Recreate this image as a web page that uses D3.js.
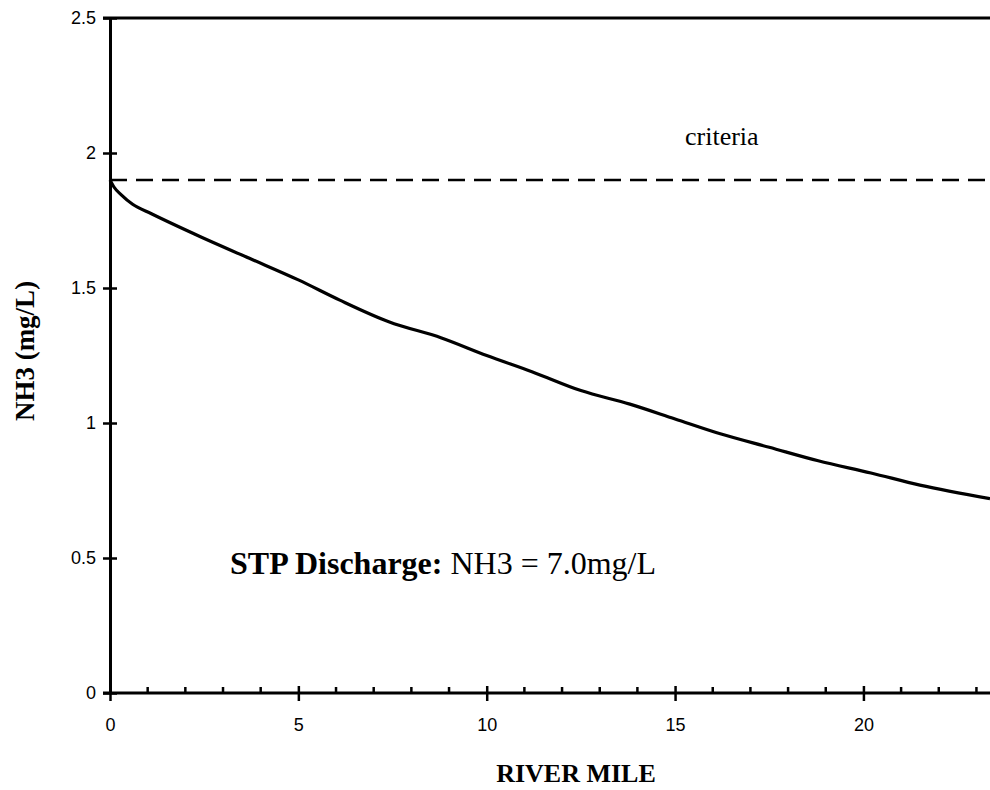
<!DOCTYPE html>
<html>
<head>
<meta charset="utf-8">
<script src="https://cdn.jsdelivr.net/npm/d3@7"></script>
<style>
  html, body { margin: 0; padding: 0; background: #fff; }
  svg { display: block; }
</style>
</head>
<body>
<svg id="chart" width="990" height="790"></svg>
<script>
// ---- Data ----
const riverMile = [0, 0.1, 0.3, 0.6, 1.1, 2.4, 3.7, 5.0, 6.1, 7.4, 8.8, 10.0, 11.2, 12.5, 13.8, 15.0, 16.2, 17.5, 18.8, 20.2, 21.5, 23.36];
const nh3 = [1.90, 1.875, 1.845, 1.81, 1.775, 1.69, 1.61, 1.53, 1.455, 1.375, 1.315, 1.25, 1.19, 1.12, 1.07, 1.015, 0.96, 0.91, 0.86, 0.815, 0.77, 0.72];
const criteria = 1.9;
const xMajorTicks = [0, 5, 10, 15, 20];
const xMinorTicks = d3.range(0, 24, 1);
const yTicks = [0, 0.5, 1, 1.5, 2, 2.5];
const yTickLabels = ["0", "0.5", "1", "1.5", "2", "2.5"];
const xTitle = "RIVER MILE";
const yTitle = "NH3 (mg/L)";
const criteriaLabel = "criteria";
const noteBold = "STP Discharge:";
const noteRegular = " NH3 = 7.0mg/L";

(function () {
// ---- Layout ----
const svg = d3.select("#chart");
const pLeft = 110, pRight = 990, pTop = 18, pBottom = 693;
const x = d3.scaleLinear().domain([0, 23.36]).range([pLeft, pRight]);
const y = d3.scaleLinear().domain([0, 2.5]).range([pBottom, pTop]);

const serif = "'Liberation Serif', 'Times New Roman', serif";
const sans = "'Liberation Sans', Arial, sans-serif";

// Top border
svg.append("line")
  .attr("x1", pLeft - 7).attr("x2", pRight)
  .attr("y1", y(2.5)).attr("y2", y(2.5))
  .attr("stroke", "#000").attr("stroke-width", 3);

// Y axis
const yAxis = d3.axisLeft(y).tickValues(yTicks)
  .tickFormat((d, i) => yTickLabels[i])
  .tickSizeInner(7).tickSizeOuter(0).tickPadding(8);
const gy = svg.append("g").attr("transform", `translate(${pLeft},0)`).call(yAxis);
gy.select(".domain").attr("stroke-width", 3);
gy.selectAll(".tick line").attr("x2", -7).attr("x1", 7).attr("stroke-width", 2.5);
gy.selectAll(".tick text").attr("font-family", sans).attr("font-size", 18).attr("fill", "#000").attr("x", -14);

// X axis minor ticks
svg.append("g").selectAll("line").data(xMinorTicks.filter(d => d % 5 !== 0)).join("line")
  .attr("x1", d => x(d)).attr("x2", d => x(d))
  .attr("y1", pBottom).attr("y2", pBottom - 6)
  .attr("stroke", "#000").attr("stroke-width", 2.5);

// X axis
const xAxis = d3.axisBottom(x).tickValues(xMajorTicks)
  .tickFormat(d3.format("d")).tickSizeInner(7).tickSizeOuter(0).tickPadding(18);
const gx = svg.append("g").attr("transform", `translate(0,${pBottom})`).call(xAxis);
gx.select(".domain").attr("stroke-width", 3).attr("d", `M${pLeft - 7},0H${pRight}`);
gx.selectAll(".tick line").attr("y1", -7).attr("y2", 8).attr("stroke-width", 2.5);
gx.selectAll(".tick text").attr("font-family", sans).attr("font-size", 18).attr("fill", "#000");

// Criteria dashed line
svg.append("line")
  .attr("x1", x(0)).attr("x2", pRight)
  .attr("y1", y(criteria)).attr("y2", y(criteria))
  .attr("stroke", "#000").attr("stroke-width", 2.5)
  .attr("stroke-dasharray", "17,9");

// Curve
const pts = riverMile.map((m, i) => [m, nh3[i]]);
const line = d3.line().x(d => x(d[0])).y(d => y(d[1])).curve(d3.curveMonotoneX);
svg.append("path").datum(pts)
  .attr("d", line).attr("fill", "none")
  .attr("stroke", "#000").attr("stroke-width", 3.2)
  .attr("stroke-linejoin", "round");

// Labels
svg.append("text")
  .attr("x", 685).attr("y", 145)
  .attr("font-family", serif).attr("font-size", 26).attr("fill", "#000")
  .text(criteriaLabel);

const note = svg.append("text")
  .attr("x", 230).attr("y", 574)
  .attr("font-family", serif).attr("font-size", 32).attr("fill", "#000");
note.append("tspan").attr("font-weight", "bold").text(noteBold);
note.append("tspan").text(noteRegular);

svg.append("text")
  .attr("x", 576).attr("y", 782)
  .attr("text-anchor", "middle")
  .attr("font-family", serif).attr("font-size", 26).attr("font-weight", "bold")
  .attr("fill", "#000").text(xTitle);

svg.append("text")
  .attr("transform", "translate(34,351) rotate(-90)")
  .attr("text-anchor", "middle")
  .attr("font-family", serif).attr("font-size", 27).attr("font-weight", "bold")
  .attr("fill", "#000").text(yTitle);
})();
</script>
</body>
</html>
